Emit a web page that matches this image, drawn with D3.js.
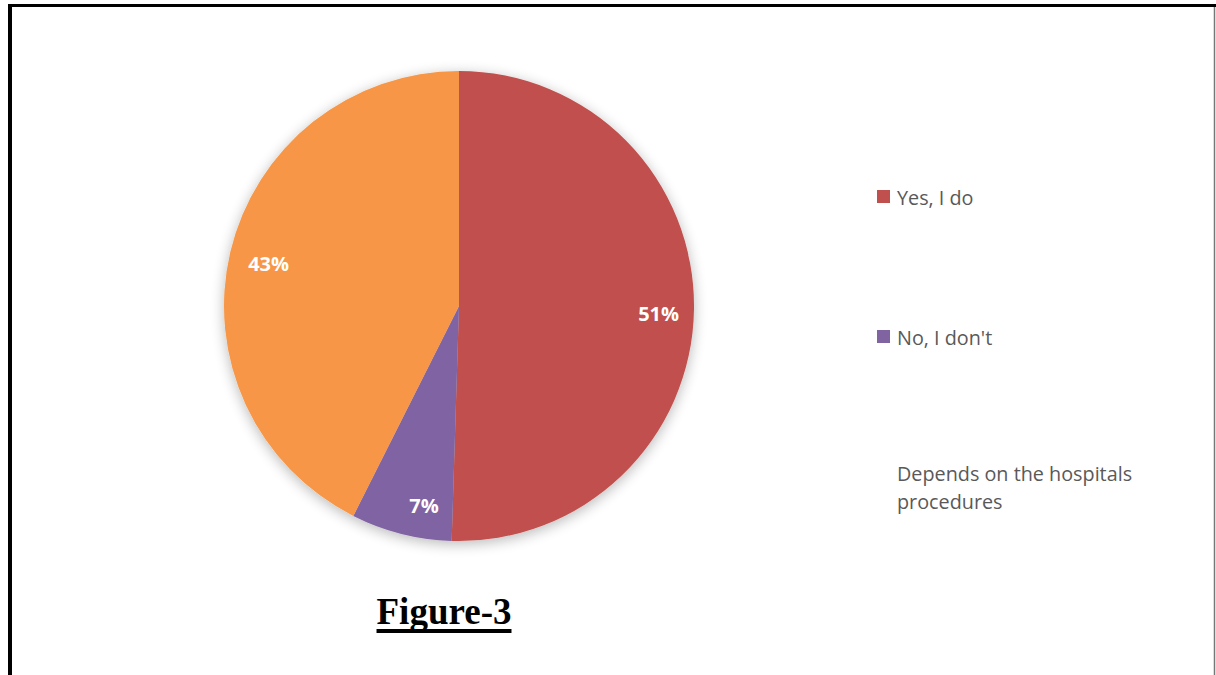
<!DOCTYPE html>
<html>
<head>
<meta charset="utf-8">
<script src="https://cdn.jsdelivr.net/npm/d3@7/dist/d3.min.js"></script>
<style>
  html, body { margin: 0; padding: 0; background: #ffffff; }
  svg { display: block; }
</style>
</head>
<body>
<svg id="chart" width="1216" height="675"></svg>
<script>
// Survey answers and their shares (percent)
const categories = ["Yes, I do", "No, I don't", "Depends on the hospitals procedures"];
const shares = [51, 7, 43];
const colors = ["#c0504d", "#8064a2", "#f79646"];
const showSwatch = [true, true, false];
const figureTitle = "Figure-3";

const svg = d3.select("#chart");
const W = 1216, H = 675;

// Frame around the figure
svg.append("line").attr("x1", 8).attr("x2", W).attr("y1", 5.5).attr("y2", 5.5)
  .attr("stroke", "#000").attr("stroke-width", 3);
svg.append("line").attr("x1", 10).attr("x2", 10).attr("y1", 4).attr("y2", H)
  .attr("stroke", "#000").attr("stroke-width", 4);
svg.append("line").attr("x1", 1214.5).attr("x2", 1214.5).attr("y1", 7).attr("y2", H)
  .attr("stroke", "#777").attr("stroke-width", 1.5);

// Soft shadow under the pie
const defs = svg.append("defs");
const f = defs.append("filter").attr("id", "pieShadow")
  .attr("x", "-20%").attr("y", "-20%").attr("width", "140%").attr("height", "140%");
f.append("feGaussianBlur").attr("in", "SourceAlpha").attr("stdDeviation", 7).attr("result", "b");
f.append("feOffset").attr("in", "b").attr("dx", 0).attr("dy", 3).attr("result", "o");
f.append("feComponentTransfer").attr("in", "o").attr("result", "s")
  .append("feFuncA").attr("type", "linear").attr("slope", 0.28);
const m = f.append("feMerge");
m.append("feMergeNode").attr("in", "s");
m.append("feMergeNode").attr("in", "SourceGraphic");

const cx = 459, cy = 306, R = 235;
const pie = d3.pie().sort(null).value(d => d);
const arcs = pie(shares);
const arc = d3.arc().innerRadius(0).outerRadius(R);

const g = svg.append("g").attr("transform", `translate(${cx},${cy})`);
const slices = g.append("g").attr("filter", "url(#pieShadow)");
slices.selectAll("path").data(arcs).join("path")
  .attr("d", arc)
  .attr("fill", (d, i) => colors[i]);

// Percentage labels inside each slice (radius factor and small angle nudge per slice)
const labelRadius = [0.85, 0.86, 0.83];
const labelNudge = [0.02, -0.075, -0.015];
const labelAngle = (d, i) => (d.startAngle + d.endAngle) / 2 + labelNudge[i];
g.selectAll("text.pct").data(arcs).join("text")
  .attr("class", "pct")
  .attr("x", (d, i) => Math.sin(labelAngle(d, i)) * labelRadius[i] * R)
  .attr("y", (d, i) => -Math.cos(labelAngle(d, i)) * labelRadius[i] * R)
  .attr("text-anchor", "middle")
  .attr("dominant-baseline", "central")
  .attr("fill", "#ffffff")
  .attr("font-family", "'Open Sans', sans-serif")
  .attr("font-weight", "bold")
  .attr("font-size", 20)
  .text(d => d.data + "%");

// Legend
const legend = svg.append("g").attr("transform", "translate(877,0)");
const rowY = [197, 337, 473];
categories.forEach((c, i) => {
  const row = legend.append("g").attr("transform", `translate(0,${rowY[i]})`);
  if (showSwatch[i]) {
    row.append("rect").attr("x", 0).attr("y", -7).attr("width", 13).attr("height", 13)
      .attr("fill", colors[i]);
  }
  const words = c.split(" ");
  const lines = i === 2 ? [words.slice(0, 4).join(" "), words.slice(4).join(" ")] : [c];
  const t = row.append("text")
    .attr("x", 20)
    .attr("y", 0)
    .attr("fill", "#595959")
    .attr("font-family", "'Open Sans', sans-serif")
    .attr("font-size", 19.8)
    .attr("dominant-baseline", "central");
  lines.forEach((ln, k) => {
    t.append("tspan").attr("x", 20).attr("dy", k === 0 ? 0 : 28).text(ln);
  });
});

// Figure caption with a heavy underline
const cap = svg.append("text")
  .attr("x", 444).attr("y", 624)
  .attr("text-anchor", "middle")
  .attr("font-family", "'Liberation Serif', 'Times New Roman', serif")
  .attr("font-weight", "bold")
  .attr("font-size", 37)
  .attr("fill", "#000")
  .text(figureTitle);
const bb = cap.node().getBBox();
svg.append("rect")
  .attr("x", bb.x).attr("y", 629)
  .attr("width", bb.width).attr("height", 4)
  .attr("fill", "#000");
</script>
</body>
</html>
